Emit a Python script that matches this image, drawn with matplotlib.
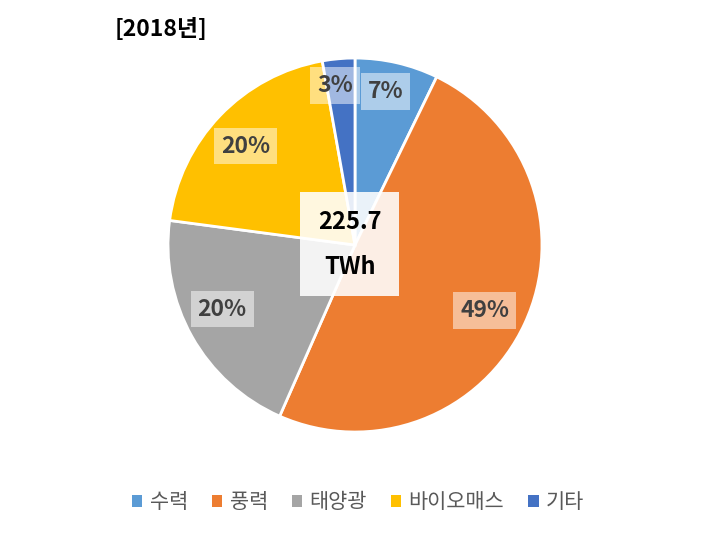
import matplotlib
matplotlib.use("Agg")
import matplotlib.pyplot as plt
from matplotlib.patches import Patch
import numpy as np

plt.rcParams['font.family'] = ['Noto Sans CJK KR', 'DejaVu Sans']

# 2018년 발전원별 비중 (%)
fontes = ["수력", "풍력", "태양광", "바이오매스", "기타"]
valores = [7.2, 49.4, 20.5, 20.1, 2.8]
cores = ["#5B9BD5", "#ED7D31", "#A5A5A5", "#FFC000", "#4472C4"]
total_txt = "225.7\nTWh"
titulo = "[2018년]"

# posição dos rótulos: distância radial e desvio angular (graus), como no Excel
dist_rotulos = [0.837, 0.776, 0.789, 0.79, 0.86]
desvio_rotulos = [-1.8, 1.9, 3.6, -1.7, -2.1]

fig = plt.figure(figsize=(7.09, 5.35), dpi=100)
ax = fig.add_axes([0.5007 - 0.2638, 0.542 - 0.3495, 0.5276, 0.699])

wedges, texts, autotexts = ax.pie(
    valores, colors=cores, startangle=90, counterclock=False,
    autopct=lambda p: f"{p:.0f}%", pctdistance=1.0,
    wedgeprops=dict(edgecolor="white", linewidth=2),
    textprops=dict(fontsize=16.5, fontweight="bold", color="#404040"))
for w, t, d, a in zip(wedges, autotexts, dist_rotulos, desvio_rotulos):
    meio = np.deg2rad((w.theta1 + w.theta2) / 2 - a)
    t.set_position((d * np.cos(meio), d * np.sin(meio)))
    t.set_bbox(dict(facecolor="white", alpha=0.5, edgecolor="none", pad=5))
ax.set_aspect("equal")
ax.set_xlim(-1, 1)
ax.set_ylim(-1, 1)

# caixa central com total
ax.text(-0.027, 0.005, total_txt, ha="center", va="center", fontsize=17,
        fontweight="bold", color="black", linespacing=2.1,
        bbox=dict(facecolor="white", alpha=0.88, edgecolor="none",
                  boxstyle="square,pad=0.75"))

fig.text(115 / 709, 1 - 30 / 535, titulo, ha="left", va="center",
         fontsize=16.5, fontweight="bold", color="black")

handles = [Patch(facecolor=c, edgecolor="none") for c in cores]
leg = fig.legend(handles, fontes, loc="center", bbox_to_anchor=(0.505, 1 - 502 / 535),
                 ncol=5, frameon=False, fontsize=15, handlelength=0.5,
                 handleheight=0.5, handletextpad=0.35, columnspacing=1.15)
for t in leg.get_texts():
    t.set_color("#595959")

fig.savefig("out.png", dpi=100)
